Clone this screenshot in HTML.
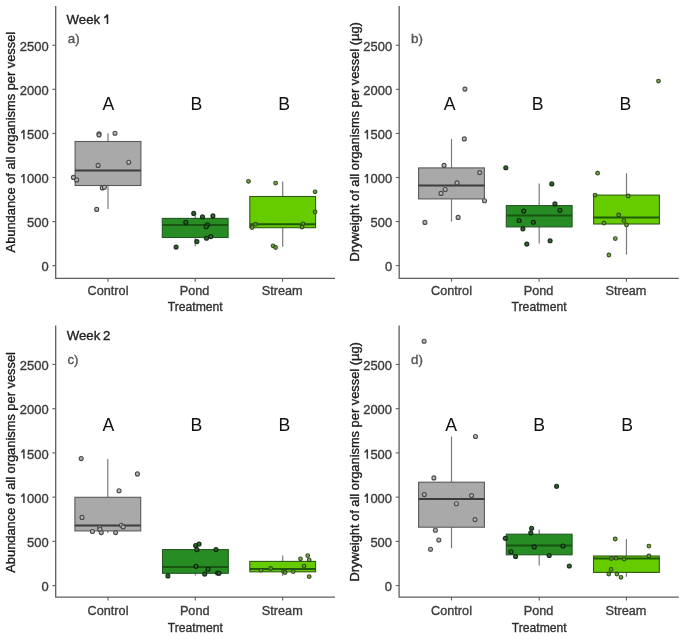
<!DOCTYPE html>
<html><head><meta charset="utf-8"><style>
html,body{margin:0;padding:0;background:#fff;width:685px;height:639px;overflow:hidden}
svg{display:block;font-family:"Liberation Sans", sans-serif;filter:blur(0.45px)}
text{stroke-width:0.35px;paint-order:stroke}
.tk{stroke:#3a3a3a}
.tt{stroke:#1a1a1a}
</style></head><body>
<svg width="685" height="639" viewBox="0 0 685 639">
<rect width="685" height="639" fill="#ffffff"/>
<line x1="108.0" y1="133.2" x2="108.0" y2="141.5" stroke="#7a7a7a" stroke-width="1.2"/>
<line x1="108.0" y1="185.5" x2="108.0" y2="209.0" stroke="#7a7a7a" stroke-width="1.2"/>
<rect x="75.10" y="141.5" width="65.8" height="44.00" fill="#a9a9a9" stroke="#5a5a5a" stroke-width="1.1"/>
<line x1="75.10" y1="170.45" x2="140.90" y2="170.45" stroke="#3c3c3c" stroke-width="2"/>
<line x1="195.2" y1="215.5" x2="195.2" y2="218.4" stroke="#7a7a7a" stroke-width="1.2"/>
<line x1="195.2" y1="237.5" x2="195.2" y2="246.2" stroke="#7a7a7a" stroke-width="1.2"/>
<rect x="162.30" y="218.4" width="65.8" height="19.10" fill="#278c24" stroke="#245624" stroke-width="1.1"/>
<line x1="162.30" y1="225.1" x2="228.10" y2="225.1" stroke="#185510" stroke-width="2"/>
<line x1="282.7" y1="181.5" x2="282.7" y2="196.5" stroke="#7a7a7a" stroke-width="1.2"/>
<line x1="282.7" y1="227.7" x2="282.7" y2="246.8" stroke="#7a7a7a" stroke-width="1.2"/>
<rect x="249.80" y="196.5" width="65.8" height="31.20" fill="#66cc00" stroke="#2f5a14" stroke-width="1.1"/>
<line x1="249.80" y1="224.2" x2="315.60" y2="224.2" stroke="#1f5a0a" stroke-width="2"/>
<circle cx="99.0" cy="133.9" r="2.0" fill="#b8b8b8" stroke="#4a4a4a" stroke-width="1.1"/>
<circle cx="99.05" cy="134.9" r="2.0" fill="#b8b8b8" stroke="#4a4a4a" stroke-width="1.1"/>
<circle cx="115" cy="133.2" r="2.0" fill="#b8b8b8" stroke="#4a4a4a" stroke-width="1.1"/>
<circle cx="98.1" cy="165.4" r="2.0" fill="#b8b8b8" stroke="#4a4a4a" stroke-width="1.1"/>
<circle cx="128.75" cy="162.3" r="2.0" fill="#b8b8b8" stroke="#4a4a4a" stroke-width="1.1"/>
<circle cx="73.4" cy="177.4" r="2.0" fill="#b8b8b8" stroke="#4a4a4a" stroke-width="1.1"/>
<circle cx="76.7" cy="179.9" r="2.0" fill="#b8b8b8" stroke="#4a4a4a" stroke-width="1.1"/>
<circle cx="102.3" cy="187.9" r="2.0" fill="#b8b8b8" stroke="#4a4a4a" stroke-width="1.1"/>
<circle cx="104.4" cy="187.2" r="2.0" fill="#b8b8b8" stroke="#4a4a4a" stroke-width="1.1"/>
<circle cx="96.7" cy="209.4" r="2.0" fill="#b8b8b8" stroke="#4a4a4a" stroke-width="1.1"/>
<circle cx="193.7" cy="213.4" r="2.0" fill="#2f6a2c" stroke="rgba(5,25,5,0.85)" stroke-width="1.15"/>
<circle cx="202.5" cy="216.7" r="2.0" fill="#2f6a2c" stroke="rgba(5,25,5,0.85)" stroke-width="1.15"/>
<circle cx="212.9" cy="215.9" r="2.0" fill="#2f6a2c" stroke="rgba(5,25,5,0.85)" stroke-width="1.15"/>
<circle cx="185.8" cy="222.3" r="2.0" fill="#2f6a2c" stroke="rgba(5,25,5,0.85)" stroke-width="1.15"/>
<circle cx="207.4" cy="224.8" r="2.0" fill="#2f6a2c" stroke="rgba(5,25,5,0.85)" stroke-width="1.15"/>
<circle cx="206.2" cy="226.7" r="2.0" fill="#2f6a2c" stroke="rgba(5,25,5,0.85)" stroke-width="1.15"/>
<circle cx="206.5" cy="238.2" r="2.0" fill="#2f6a2c" stroke="rgba(5,25,5,0.85)" stroke-width="1.15"/>
<circle cx="210.8" cy="236.6" r="2.0" fill="#2f6a2c" stroke="rgba(5,25,5,0.85)" stroke-width="1.15"/>
<circle cx="196.9" cy="241.6" r="2.0" fill="#2f6a2c" stroke="rgba(5,25,5,0.85)" stroke-width="1.15"/>
<circle cx="176.1" cy="247.1" r="2.0" fill="#2f6a2c" stroke="rgba(5,25,5,0.85)" stroke-width="1.15"/>
<circle cx="248.5" cy="181.3" r="1.85" fill="rgba(100,160,45,0.9)" stroke="rgba(45,70,25,0.95)" stroke-width="1.1"/>
<circle cx="275.6" cy="183.1" r="1.85" fill="rgba(100,160,45,0.9)" stroke="rgba(45,70,25,0.95)" stroke-width="1.1"/>
<circle cx="315.1" cy="191.8" r="1.85" fill="rgba(100,160,45,0.9)" stroke="rgba(45,70,25,0.95)" stroke-width="1.1"/>
<circle cx="315.1" cy="211.8" r="1.85" fill="rgba(100,160,45,0.9)" stroke="rgba(45,70,25,0.95)" stroke-width="1.1"/>
<circle cx="255.5" cy="224.2" r="1.85" fill="rgba(100,160,45,0.9)" stroke="rgba(45,70,25,0.95)" stroke-width="1.1"/>
<circle cx="252" cy="227.5" r="1.85" fill="rgba(100,160,45,0.9)" stroke="rgba(45,70,25,0.95)" stroke-width="1.1"/>
<circle cx="303" cy="223.8" r="1.85" fill="rgba(100,160,45,0.9)" stroke="rgba(45,70,25,0.95)" stroke-width="1.1"/>
<circle cx="302" cy="227" r="1.85" fill="rgba(100,160,45,0.9)" stroke="rgba(45,70,25,0.95)" stroke-width="1.1"/>
<circle cx="273.1" cy="245.8" r="1.85" fill="rgba(100,160,45,0.9)" stroke="rgba(45,70,25,0.95)" stroke-width="1.1"/>
<circle cx="275.6" cy="247.5" r="1.85" fill="rgba(100,160,45,0.9)" stroke="rgba(45,70,25,0.95)" stroke-width="1.1"/>
<path d="M55.7 6 V278.4 H335.0" fill="none" stroke="#5e5e5e" stroke-width="1.3"/>
<line x1="52.40" y1="265.65" x2="55.7" y2="265.65" stroke="#5e5e5e" stroke-width="1.1"/>
<text x="48.60" y="271.40" class="tk" font-size="12.95" fill="#3a3a3a" text-anchor="end">0</text>
<line x1="52.40" y1="221.57" x2="55.7" y2="221.57" stroke="#5e5e5e" stroke-width="1.1"/>
<text x="48.60" y="227.32" class="tk" font-size="12.95" fill="#3a3a3a" text-anchor="end">500</text>
<line x1="52.40" y1="177.49" x2="55.7" y2="177.49" stroke="#5e5e5e" stroke-width="1.1"/>
<text x="48.60" y="183.24" class="tk" font-size="12.95" fill="#3a3a3a" text-anchor="end">000</text>
<path d="M23.90 173.94 V183.24 M23.70 174.24 Q22.80 176.14 21.15 176.84" fill="none" stroke="#3a3a3a" stroke-width="1.5"/>
<line x1="52.40" y1="133.42" x2="55.7" y2="133.42" stroke="#5e5e5e" stroke-width="1.1"/>
<text x="48.60" y="139.17" class="tk" font-size="12.95" fill="#3a3a3a" text-anchor="end">500</text>
<path d="M23.90 129.87 V139.17 M23.70 130.17 Q22.80 132.07 21.15 132.77" fill="none" stroke="#3a3a3a" stroke-width="1.5"/>
<line x1="52.40" y1="89.34" x2="55.7" y2="89.34" stroke="#5e5e5e" stroke-width="1.1"/>
<text x="48.60" y="95.09" class="tk" font-size="12.95" fill="#3a3a3a" text-anchor="end">2000</text>
<line x1="52.40" y1="45.26" x2="55.7" y2="45.26" stroke="#5e5e5e" stroke-width="1.1"/>
<text x="48.60" y="51.01" class="tk" font-size="12.95" fill="#3a3a3a" text-anchor="end">2500</text>
<line x1="108.0" y1="278.4" x2="108.0" y2="281.7" stroke="#5e5e5e" stroke-width="1.1"/>
<text x="108.00" y="294.9" class="tk" font-size="12.7" fill="#3a3a3a" text-anchor="middle">Control</text>
<line x1="195.2" y1="278.4" x2="195.2" y2="281.7" stroke="#5e5e5e" stroke-width="1.1"/>
<text x="194.60" y="294.9" class="tk" font-size="12.7" fill="#3a3a3a" text-anchor="middle">Pond</text>
<line x1="282.6" y1="278.4" x2="282.6" y2="281.7" stroke="#5e5e5e" stroke-width="1.1"/>
<text x="282.20" y="294.9" class="tk" font-size="12.7" fill="#3a3a3a" text-anchor="middle">Stream</text>
<text x="195.2" y="310.8" class="tk" font-size="12.2" fill="#2e2e2e" text-anchor="middle">Treatment</text>
<text transform="translate(15.4,142.1) rotate(-90)" class="tt" font-size="12.85" fill="#1a1a1a" text-anchor="middle">Abundance of all organisms per vessel</text>
<text x="108.35" y="109.6" font-size="17.7" fill="#111" text-anchor="middle">A</text>
<text x="196.35" y="109.6" font-size="17.7" fill="#111" text-anchor="middle">B</text>
<text x="284.2" y="109.6" font-size="17.7" fill="#111" text-anchor="middle">B</text>
<text x="67.8" y="43.3" font-size="13.3" fill="#505050" stroke="#505050" stroke-width="0.12">a)</text>
<text class="tt" x="66.6" y="24.0" font-size="13.2" fill="#222">Week</text>
<path d="M107.45 14.6 V24 M107.3 14.9 Q106.2 16.9 104.2 17.7" fill="none" stroke="#222" stroke-width="1.55"/>
<line x1="451.5" y1="138.9" x2="451.5" y2="167.9" stroke="#7a7a7a" stroke-width="1.2"/>
<line x1="451.5" y1="198.9" x2="451.5" y2="221.6" stroke="#7a7a7a" stroke-width="1.2"/>
<rect x="418.60" y="167.9" width="65.8" height="31.00" fill="#a9a9a9" stroke="#5a5a5a" stroke-width="1.1"/>
<line x1="418.60" y1="185.6" x2="484.40" y2="185.6" stroke="#3c3c3c" stroke-width="2"/>
<line x1="539.2" y1="183.6" x2="539.2" y2="205.6" stroke="#7a7a7a" stroke-width="1.2"/>
<line x1="539.2" y1="226.9" x2="539.2" y2="243.4" stroke="#7a7a7a" stroke-width="1.2"/>
<rect x="506.30" y="205.6" width="65.8" height="21.30" fill="#278c24" stroke="#245624" stroke-width="1.1"/>
<line x1="506.30" y1="215.4" x2="572.10" y2="215.4" stroke="#185510" stroke-width="2"/>
<line x1="626.5" y1="173.2" x2="626.5" y2="195.1" stroke="#7a7a7a" stroke-width="1.2"/>
<line x1="626.5" y1="224.0" x2="626.5" y2="254.6" stroke="#7a7a7a" stroke-width="1.2"/>
<rect x="593.60" y="195.1" width="65.8" height="28.90" fill="#66cc00" stroke="#2f5a14" stroke-width="1.1"/>
<line x1="593.60" y1="217.6" x2="659.40" y2="217.6" stroke="#1f5a0a" stroke-width="2"/>
<circle cx="464.9" cy="89.1" r="2.0" fill="#b8b8b8" stroke="#4a4a4a" stroke-width="1.1"/>
<circle cx="464.3" cy="138.9" r="2.0" fill="#b8b8b8" stroke="#4a4a4a" stroke-width="1.1"/>
<circle cx="444.1" cy="165.4" r="2.0" fill="#b8b8b8" stroke="#4a4a4a" stroke-width="1.1"/>
<circle cx="479.7" cy="172.6" r="2.0" fill="#b8b8b8" stroke="#4a4a4a" stroke-width="1.1"/>
<circle cx="457" cy="182.9" r="2.0" fill="#b8b8b8" stroke="#4a4a4a" stroke-width="1.1"/>
<circle cx="445.2" cy="189.5" r="2.0" fill="#b8b8b8" stroke="#4a4a4a" stroke-width="1.1"/>
<circle cx="441" cy="193.4" r="2.0" fill="#b8b8b8" stroke="#4a4a4a" stroke-width="1.1"/>
<circle cx="484.5" cy="200.8" r="2.0" fill="#b8b8b8" stroke="#4a4a4a" stroke-width="1.1"/>
<circle cx="458.1" cy="217.4" r="2.0" fill="#b8b8b8" stroke="#4a4a4a" stroke-width="1.1"/>
<circle cx="424.9" cy="222.4" r="2.0" fill="#b8b8b8" stroke="#4a4a4a" stroke-width="1.1"/>
<circle cx="505.8" cy="167.7" r="2.0" fill="#2f6a2c" stroke="rgba(5,25,5,0.85)" stroke-width="1.15"/>
<circle cx="551.8" cy="183.9" r="2.0" fill="#2f6a2c" stroke="rgba(5,25,5,0.85)" stroke-width="1.15"/>
<circle cx="554.9" cy="203.9" r="2.0" fill="#2f6a2c" stroke="rgba(5,25,5,0.85)" stroke-width="1.15"/>
<circle cx="559.9" cy="210.2" r="2.0" fill="#2f6a2c" stroke="rgba(5,25,5,0.85)" stroke-width="1.15"/>
<circle cx="523.7" cy="211.1" r="2.0" fill="#2f6a2c" stroke="rgba(5,25,5,0.85)" stroke-width="1.15"/>
<circle cx="519.1" cy="220.5" r="2.0" fill="#2f6a2c" stroke="rgba(5,25,5,0.85)" stroke-width="1.15"/>
<circle cx="533.4" cy="222.3" r="2.0" fill="#2f6a2c" stroke="rgba(5,25,5,0.85)" stroke-width="1.15"/>
<circle cx="522.9" cy="228.8" r="2.0" fill="#2f6a2c" stroke="rgba(5,25,5,0.85)" stroke-width="1.15"/>
<circle cx="550.1" cy="240.7" r="2.0" fill="#2f6a2c" stroke="rgba(5,25,5,0.85)" stroke-width="1.15"/>
<circle cx="526.8" cy="244.1" r="2.0" fill="#2f6a2c" stroke="rgba(5,25,5,0.85)" stroke-width="1.15"/>
<circle cx="658.5" cy="81.1" r="1.85" fill="rgba(100,160,45,0.9)" stroke="rgba(45,70,25,0.95)" stroke-width="1.1"/>
<circle cx="597.6" cy="173.2" r="1.85" fill="rgba(100,160,45,0.9)" stroke="rgba(45,70,25,0.95)" stroke-width="1.1"/>
<circle cx="595.1" cy="195.1" r="1.85" fill="rgba(100,160,45,0.9)" stroke="rgba(45,70,25,0.95)" stroke-width="1.1"/>
<circle cx="628.2" cy="196" r="1.85" fill="rgba(100,160,45,0.9)" stroke="rgba(45,70,25,0.95)" stroke-width="1.1"/>
<circle cx="618.7" cy="215" r="1.85" fill="rgba(100,160,45,0.9)" stroke="rgba(45,70,25,0.95)" stroke-width="1.1"/>
<circle cx="623.9" cy="220.6" r="1.85" fill="rgba(100,160,45,0.9)" stroke="rgba(45,70,25,0.95)" stroke-width="1.1"/>
<circle cx="604.1" cy="223.1" r="1.85" fill="rgba(100,160,45,0.9)" stroke="rgba(45,70,25,0.95)" stroke-width="1.1"/>
<circle cx="626.5" cy="224.9" r="1.85" fill="rgba(100,160,45,0.9)" stroke="rgba(45,70,25,0.95)" stroke-width="1.1"/>
<circle cx="615.3" cy="238.6" r="1.85" fill="rgba(100,160,45,0.9)" stroke="rgba(45,70,25,0.95)" stroke-width="1.1"/>
<circle cx="608.9" cy="255" r="1.85" fill="rgba(100,160,45,0.9)" stroke="rgba(45,70,25,0.95)" stroke-width="1.1"/>
<path d="M399.2 6 V278.4 H678.8" fill="none" stroke="#5e5e5e" stroke-width="1.3"/>
<line x1="395.90" y1="265.65" x2="399.2" y2="265.65" stroke="#5e5e5e" stroke-width="1.1"/>
<text x="392.10" y="271.40" class="tk" font-size="12.95" fill="#3a3a3a" text-anchor="end">0</text>
<line x1="395.90" y1="221.57" x2="399.2" y2="221.57" stroke="#5e5e5e" stroke-width="1.1"/>
<text x="392.10" y="227.32" class="tk" font-size="12.95" fill="#3a3a3a" text-anchor="end">500</text>
<line x1="395.90" y1="177.49" x2="399.2" y2="177.49" stroke="#5e5e5e" stroke-width="1.1"/>
<text x="392.10" y="183.24" class="tk" font-size="12.95" fill="#3a3a3a" text-anchor="end">000</text>
<path d="M367.40 173.94 V183.24 M367.20 174.24 Q366.30 176.14 364.65 176.84" fill="none" stroke="#3a3a3a" stroke-width="1.5"/>
<line x1="395.90" y1="133.42" x2="399.2" y2="133.42" stroke="#5e5e5e" stroke-width="1.1"/>
<text x="392.10" y="139.17" class="tk" font-size="12.95" fill="#3a3a3a" text-anchor="end">500</text>
<path d="M367.40 129.87 V139.17 M367.20 130.17 Q366.30 132.07 364.65 132.77" fill="none" stroke="#3a3a3a" stroke-width="1.5"/>
<line x1="395.90" y1="89.34" x2="399.2" y2="89.34" stroke="#5e5e5e" stroke-width="1.1"/>
<text x="392.10" y="95.09" class="tk" font-size="12.95" fill="#3a3a3a" text-anchor="end">2000</text>
<line x1="395.90" y1="45.26" x2="399.2" y2="45.26" stroke="#5e5e5e" stroke-width="1.1"/>
<text x="392.10" y="51.01" class="tk" font-size="12.95" fill="#3a3a3a" text-anchor="end">2500</text>
<line x1="451.5" y1="278.4" x2="451.5" y2="281.7" stroke="#5e5e5e" stroke-width="1.1"/>
<text x="451.50" y="294.9" class="tk" font-size="12.7" fill="#3a3a3a" text-anchor="middle">Control</text>
<line x1="539.1" y1="278.4" x2="539.1" y2="281.7" stroke="#5e5e5e" stroke-width="1.1"/>
<text x="538.50" y="294.9" class="tk" font-size="12.7" fill="#3a3a3a" text-anchor="middle">Pond</text>
<line x1="626.4" y1="278.4" x2="626.4" y2="281.7" stroke="#5e5e5e" stroke-width="1.1"/>
<text x="626.00" y="294.9" class="tk" font-size="12.7" fill="#3a3a3a" text-anchor="middle">Stream</text>
<text x="539.1" y="310.8" class="tk" font-size="12.2" fill="#2e2e2e" text-anchor="middle">Treatment</text>
<text transform="translate(358.9,141.9) rotate(-90)" class="tt" font-size="12.85" fill="#1a1a1a" text-anchor="middle">Dryweight of all organisms per vessel (µg)</text>
<text x="449.6" y="109.6" font-size="17.7" fill="#111" text-anchor="middle">A</text>
<text x="537.65" y="109.6" font-size="17.7" fill="#111" text-anchor="middle">B</text>
<text x="625.45" y="109.6" font-size="17.7" fill="#111" text-anchor="middle">B</text>
<text x="411.1" y="43.4" font-size="13.3" fill="#505050" stroke="#505050" stroke-width="0.12">b)</text>
<line x1="107.8" y1="458.9" x2="107.8" y2="497.3" stroke="#7a7a7a" stroke-width="1.2"/>
<line x1="107.8" y1="530.9" x2="107.8" y2="533.0" stroke="#7a7a7a" stroke-width="1.2"/>
<rect x="74.90" y="497.3" width="65.8" height="33.60" fill="#a9a9a9" stroke="#5a5a5a" stroke-width="1.1"/>
<line x1="74.90" y1="525.5" x2="140.70" y2="525.5" stroke="#3c3c3c" stroke-width="2"/>
<line x1="195.4" y1="544.0" x2="195.4" y2="549.6" stroke="#7a7a7a" stroke-width="1.2"/>
<line x1="195.4" y1="573.3" x2="195.4" y2="575.5" stroke="#7a7a7a" stroke-width="1.2"/>
<rect x="162.50" y="549.6" width="65.8" height="23.70" fill="#278c24" stroke="#245624" stroke-width="1.1"/>
<line x1="162.50" y1="567.1" x2="228.30" y2="567.1" stroke="#185510" stroke-width="2"/>
<line x1="282.7" y1="555.6" x2="282.7" y2="561.4" stroke="#7a7a7a" stroke-width="1.2"/>
<line x1="282.7" y1="571.8" x2="282.7" y2="575.9" stroke="#7a7a7a" stroke-width="1.2"/>
<rect x="249.80" y="561.4" width="65.8" height="10.40" fill="#66cc00" stroke="#2f5a14" stroke-width="1.1"/>
<line x1="249.80" y1="569.0" x2="315.60" y2="569.0" stroke="#1f5a0a" stroke-width="2"/>
<circle cx="81.2" cy="458.6" r="2.0" fill="#b8b8b8" stroke="#4a4a4a" stroke-width="1.1"/>
<circle cx="137.4" cy="473.9" r="2.0" fill="#b8b8b8" stroke="#4a4a4a" stroke-width="1.1"/>
<circle cx="119" cy="490.8" r="2.0" fill="#b8b8b8" stroke="#4a4a4a" stroke-width="1.1"/>
<circle cx="82" cy="517.4" r="2.0" fill="#b8b8b8" stroke="#4a4a4a" stroke-width="1.1"/>
<circle cx="121.4" cy="525.2" r="2.0" fill="#b8b8b8" stroke="#4a4a4a" stroke-width="1.1"/>
<circle cx="123.2" cy="526.9" r="2.0" fill="#b8b8b8" stroke="#4a4a4a" stroke-width="1.1"/>
<circle cx="99.6" cy="527.8" r="2.0" fill="#b8b8b8" stroke="#4a4a4a" stroke-width="1.1"/>
<circle cx="99.9" cy="529.5" r="2.0" fill="#b8b8b8" stroke="#4a4a4a" stroke-width="1.1"/>
<circle cx="92.4" cy="531.5" r="2.0" fill="#b8b8b8" stroke="#4a4a4a" stroke-width="1.1"/>
<circle cx="101.3" cy="532.6" r="2.0" fill="#b8b8b8" stroke="#4a4a4a" stroke-width="1.1"/>
<circle cx="115.6" cy="532.6" r="2.0" fill="#b8b8b8" stroke="#4a4a4a" stroke-width="1.1"/>
<circle cx="195.6" cy="545.5" r="2.0" fill="#2f6a2c" stroke="rgba(5,25,5,0.85)" stroke-width="1.15"/>
<circle cx="199.1" cy="544.1" r="2.0" fill="#2f6a2c" stroke="rgba(5,25,5,0.85)" stroke-width="1.15"/>
<circle cx="196.9" cy="549.6" r="2.0" fill="#2f6a2c" stroke="rgba(5,25,5,0.85)" stroke-width="1.15"/>
<circle cx="216" cy="549.6" r="2.0" fill="#2f6a2c" stroke="rgba(5,25,5,0.85)" stroke-width="1.15"/>
<circle cx="196" cy="566.3" r="2.0" fill="#2f6a2c" stroke="rgba(5,25,5,0.85)" stroke-width="1.15"/>
<circle cx="208" cy="569.2" r="2.0" fill="#2f6a2c" stroke="rgba(5,25,5,0.85)" stroke-width="1.15"/>
<circle cx="204.7" cy="574.1" r="2.0" fill="#2f6a2c" stroke="rgba(5,25,5,0.85)" stroke-width="1.15"/>
<circle cx="217.6" cy="573" r="2.0" fill="#2f6a2c" stroke="rgba(5,25,5,0.85)" stroke-width="1.15"/>
<circle cx="219" cy="573.3" r="2.0" fill="#2f6a2c" stroke="rgba(5,25,5,0.85)" stroke-width="1.15"/>
<circle cx="167.9" cy="575.9" r="2.0" fill="#2f6a2c" stroke="rgba(5,25,5,0.85)" stroke-width="1.15"/>
<circle cx="307.7" cy="555.6" r="1.85" fill="rgba(100,160,45,0.9)" stroke="rgba(45,70,25,0.95)" stroke-width="1.1"/>
<circle cx="300.5" cy="558.8" r="1.85" fill="rgba(100,160,45,0.9)" stroke="rgba(45,70,25,0.95)" stroke-width="1.1"/>
<circle cx="309.2" cy="559.9" r="1.85" fill="rgba(100,160,45,0.9)" stroke="rgba(45,70,25,0.95)" stroke-width="1.1"/>
<circle cx="304" cy="566.1" r="1.85" fill="rgba(100,160,45,0.9)" stroke="rgba(45,70,25,0.95)" stroke-width="1.1"/>
<circle cx="270.7" cy="568.5" r="1.85" fill="rgba(100,160,45,0.9)" stroke="rgba(45,70,25,0.95)" stroke-width="1.1"/>
<circle cx="261.1" cy="570.2" r="1.85" fill="rgba(100,160,45,0.9)" stroke="rgba(45,70,25,0.95)" stroke-width="1.1"/>
<circle cx="283.5" cy="571.6" r="1.85" fill="rgba(100,160,45,0.9)" stroke="rgba(45,70,25,0.95)" stroke-width="1.1"/>
<circle cx="285.1" cy="572.5" r="1.85" fill="rgba(100,160,45,0.9)" stroke="rgba(45,70,25,0.95)" stroke-width="1.1"/>
<circle cx="293.2" cy="571.6" r="1.85" fill="rgba(100,160,45,0.9)" stroke="rgba(45,70,25,0.95)" stroke-width="1.1"/>
<circle cx="309.2" cy="576.6" r="1.85" fill="rgba(100,160,45,0.9)" stroke="rgba(45,70,25,0.95)" stroke-width="1.1"/>
<path d="M55.7 325.6 V597.1 H335.0" fill="none" stroke="#5e5e5e" stroke-width="1.3"/>
<line x1="52.40" y1="585.60" x2="55.7" y2="585.60" stroke="#5e5e5e" stroke-width="1.1"/>
<text x="48.60" y="591.35" class="tk" font-size="12.95" fill="#3a3a3a" text-anchor="end">0</text>
<line x1="52.40" y1="541.37" x2="55.7" y2="541.37" stroke="#5e5e5e" stroke-width="1.1"/>
<text x="48.60" y="547.12" class="tk" font-size="12.95" fill="#3a3a3a" text-anchor="end">500</text>
<line x1="52.40" y1="497.13" x2="55.7" y2="497.13" stroke="#5e5e5e" stroke-width="1.1"/>
<text x="48.60" y="502.88" class="tk" font-size="12.95" fill="#3a3a3a" text-anchor="end">000</text>
<path d="M23.90 493.58 V502.88 M23.70 493.88 Q22.80 495.78 21.15 496.48" fill="none" stroke="#3a3a3a" stroke-width="1.5"/>
<line x1="52.40" y1="452.90" x2="55.7" y2="452.90" stroke="#5e5e5e" stroke-width="1.1"/>
<text x="48.60" y="458.65" class="tk" font-size="12.95" fill="#3a3a3a" text-anchor="end">500</text>
<path d="M23.90 449.35 V458.65 M23.70 449.65 Q22.80 451.55 21.15 452.25" fill="none" stroke="#3a3a3a" stroke-width="1.5"/>
<line x1="52.40" y1="408.66" x2="55.7" y2="408.66" stroke="#5e5e5e" stroke-width="1.1"/>
<text x="48.60" y="414.41" class="tk" font-size="12.95" fill="#3a3a3a" text-anchor="end">2000</text>
<line x1="52.40" y1="364.43" x2="55.7" y2="364.43" stroke="#5e5e5e" stroke-width="1.1"/>
<text x="48.60" y="370.18" class="tk" font-size="12.95" fill="#3a3a3a" text-anchor="end">2500</text>
<line x1="108.0" y1="597.1" x2="108.0" y2="600.4" stroke="#5e5e5e" stroke-width="1.1"/>
<text x="108.00" y="614.6" class="tk" font-size="12.7" fill="#3a3a3a" text-anchor="middle">Control</text>
<line x1="195.3" y1="597.1" x2="195.3" y2="600.4" stroke="#5e5e5e" stroke-width="1.1"/>
<text x="194.70" y="614.6" class="tk" font-size="12.7" fill="#3a3a3a" text-anchor="middle">Pond</text>
<line x1="282.7" y1="597.1" x2="282.7" y2="600.4" stroke="#5e5e5e" stroke-width="1.1"/>
<text x="282.30" y="614.6" class="tk" font-size="12.7" fill="#3a3a3a" text-anchor="middle">Stream</text>
<text x="195.3" y="631.8" class="tk" font-size="12.2" fill="#2e2e2e" text-anchor="middle">Treatment</text>
<text transform="translate(15.4,462.4) rotate(-90)" class="tt" font-size="12.85" fill="#1a1a1a" text-anchor="middle">Abundance of all organisms per vessel</text>
<text x="108.4" y="431.0" font-size="17.7" fill="#111" text-anchor="middle">A</text>
<text x="196.5" y="431.0" font-size="17.7" fill="#111" text-anchor="middle">B</text>
<text x="284.4" y="431.0" font-size="17.7" fill="#111" text-anchor="middle">B</text>
<text x="67.4" y="363.8" font-size="13.3" fill="#505050" stroke="#505050" stroke-width="0.12">c)</text>
<text class="tt" x="66.8" y="339.5" font-size="13.2" fill="#222" word-spacing="-1">Week 2</text>
<line x1="451.5" y1="436.5" x2="451.5" y2="482.2" stroke="#7a7a7a" stroke-width="1.2"/>
<line x1="451.5" y1="527.2" x2="451.5" y2="548.3" stroke="#7a7a7a" stroke-width="1.2"/>
<rect x="418.60" y="482.2" width="65.8" height="45.00" fill="#a9a9a9" stroke="#5a5a5a" stroke-width="1.1"/>
<line x1="418.60" y1="499.1" x2="484.40" y2="499.1" stroke="#3c3c3c" stroke-width="2"/>
<line x1="539.2" y1="529.4" x2="539.2" y2="534.2" stroke="#7a7a7a" stroke-width="1.2"/>
<line x1="539.2" y1="554.8" x2="539.2" y2="565.5" stroke="#7a7a7a" stroke-width="1.2"/>
<rect x="506.30" y="534.2" width="65.8" height="20.60" fill="#278c24" stroke="#245624" stroke-width="1.1"/>
<line x1="506.30" y1="545.4" x2="572.10" y2="545.4" stroke="#185510" stroke-width="2"/>
<line x1="626.4" y1="538.9" x2="626.4" y2="556.0" stroke="#7a7a7a" stroke-width="1.2"/>
<line x1="626.4" y1="572.4" x2="626.4" y2="576.8" stroke="#7a7a7a" stroke-width="1.2"/>
<rect x="593.50" y="556.0" width="65.8" height="16.40" fill="#66cc00" stroke="#2f5a14" stroke-width="1.1"/>
<line x1="593.50" y1="558.5" x2="659.30" y2="558.5" stroke="#1f5a0a" stroke-width="2"/>
<circle cx="424.1" cy="341.3" r="2.0" fill="#b8b8b8" stroke="#4a4a4a" stroke-width="1.1"/>
<circle cx="475.5" cy="436.5" r="2.0" fill="#b8b8b8" stroke="#4a4a4a" stroke-width="1.1"/>
<circle cx="433.9" cy="477.9" r="2.0" fill="#b8b8b8" stroke="#4a4a4a" stroke-width="1.1"/>
<circle cx="424.3" cy="494.6" r="2.0" fill="#b8b8b8" stroke="#4a4a4a" stroke-width="1.1"/>
<circle cx="471.6" cy="495.6" r="2.0" fill="#b8b8b8" stroke="#4a4a4a" stroke-width="1.1"/>
<circle cx="456.4" cy="503.8" r="2.0" fill="#b8b8b8" stroke="#4a4a4a" stroke-width="1.1"/>
<circle cx="475" cy="519.6" r="2.0" fill="#b8b8b8" stroke="#4a4a4a" stroke-width="1.1"/>
<circle cx="435.4" cy="530.2" r="2.0" fill="#b8b8b8" stroke="#4a4a4a" stroke-width="1.1"/>
<circle cx="438.8" cy="540" r="2.0" fill="#b8b8b8" stroke="#4a4a4a" stroke-width="1.1"/>
<circle cx="430.5" cy="549.3" r="2.0" fill="#b8b8b8" stroke="#4a4a4a" stroke-width="1.1"/>
<circle cx="556.6" cy="486.3" r="2.0" fill="#2f6a2c" stroke="rgba(5,25,5,0.85)" stroke-width="1.15"/>
<circle cx="531.6" cy="528.2" r="2.0" fill="#2f6a2c" stroke="rgba(5,25,5,0.85)" stroke-width="1.15"/>
<circle cx="530.8" cy="532.8" r="2.0" fill="#2f6a2c" stroke="rgba(5,25,5,0.85)" stroke-width="1.15"/>
<circle cx="505.3" cy="538.3" r="2.0" fill="#2f6a2c" stroke="rgba(5,25,5,0.85)" stroke-width="1.15"/>
<circle cx="534.2" cy="546.9" r="2.0" fill="#2f6a2c" stroke="rgba(5,25,5,0.85)" stroke-width="1.15"/>
<circle cx="563" cy="546" r="2.0" fill="#2f6a2c" stroke="rgba(5,25,5,0.85)" stroke-width="1.15"/>
<circle cx="511" cy="551.7" r="2.0" fill="#2f6a2c" stroke="rgba(5,25,5,0.85)" stroke-width="1.15"/>
<circle cx="515.6" cy="556.5" r="2.0" fill="#2f6a2c" stroke="rgba(5,25,5,0.85)" stroke-width="1.15"/>
<circle cx="549.2" cy="555.5" r="2.0" fill="#2f6a2c" stroke="rgba(5,25,5,0.85)" stroke-width="1.15"/>
<circle cx="569.3" cy="566" r="2.0" fill="#2f6a2c" stroke="rgba(5,25,5,0.85)" stroke-width="1.15"/>
<circle cx="615.2" cy="539" r="1.85" fill="rgba(100,160,45,0.9)" stroke="rgba(45,70,25,0.95)" stroke-width="1.1"/>
<circle cx="648.9" cy="546.1" r="1.85" fill="rgba(100,160,45,0.9)" stroke="rgba(45,70,25,0.95)" stroke-width="1.1"/>
<circle cx="648.9" cy="556" r="1.85" fill="rgba(100,160,45,0.9)" stroke="rgba(45,70,25,0.95)" stroke-width="1.1"/>
<circle cx="611.3" cy="558.5" r="1.85" fill="rgba(100,160,45,0.9)" stroke="rgba(45,70,25,0.95)" stroke-width="1.1"/>
<circle cx="616" cy="558.2" r="1.85" fill="rgba(100,160,45,0.9)" stroke="rgba(45,70,25,0.95)" stroke-width="1.1"/>
<circle cx="624.1" cy="559.1" r="1.85" fill="rgba(100,160,45,0.9)" stroke="rgba(45,70,25,0.95)" stroke-width="1.1"/>
<circle cx="611.1" cy="569.4" r="1.85" fill="rgba(100,160,45,0.9)" stroke="rgba(45,70,25,0.95)" stroke-width="1.1"/>
<circle cx="608.8" cy="574" r="1.85" fill="rgba(100,160,45,0.9)" stroke="rgba(45,70,25,0.95)" stroke-width="1.1"/>
<circle cx="616.9" cy="574" r="1.85" fill="rgba(100,160,45,0.9)" stroke="rgba(45,70,25,0.95)" stroke-width="1.1"/>
<circle cx="621" cy="577.3" r="1.85" fill="rgba(100,160,45,0.9)" stroke="rgba(45,70,25,0.95)" stroke-width="1.1"/>
<path d="M399.1 325.6 V597.1 H678.8" fill="none" stroke="#5e5e5e" stroke-width="1.3"/>
<line x1="395.80" y1="585.60" x2="399.1" y2="585.60" stroke="#5e5e5e" stroke-width="1.1"/>
<text x="392.00" y="591.35" class="tk" font-size="12.95" fill="#3a3a3a" text-anchor="end">0</text>
<line x1="395.80" y1="541.37" x2="399.1" y2="541.37" stroke="#5e5e5e" stroke-width="1.1"/>
<text x="392.00" y="547.12" class="tk" font-size="12.95" fill="#3a3a3a" text-anchor="end">500</text>
<line x1="395.80" y1="497.13" x2="399.1" y2="497.13" stroke="#5e5e5e" stroke-width="1.1"/>
<text x="392.00" y="502.88" class="tk" font-size="12.95" fill="#3a3a3a" text-anchor="end">000</text>
<path d="M367.30 493.58 V502.88 M367.10 493.88 Q366.20 495.78 364.55 496.48" fill="none" stroke="#3a3a3a" stroke-width="1.5"/>
<line x1="395.80" y1="452.90" x2="399.1" y2="452.90" stroke="#5e5e5e" stroke-width="1.1"/>
<text x="392.00" y="458.65" class="tk" font-size="12.95" fill="#3a3a3a" text-anchor="end">500</text>
<path d="M367.30 449.35 V458.65 M367.10 449.65 Q366.20 451.55 364.55 452.25" fill="none" stroke="#3a3a3a" stroke-width="1.5"/>
<line x1="395.80" y1="408.66" x2="399.1" y2="408.66" stroke="#5e5e5e" stroke-width="1.1"/>
<text x="392.00" y="414.41" class="tk" font-size="12.95" fill="#3a3a3a" text-anchor="end">2000</text>
<line x1="395.80" y1="364.43" x2="399.1" y2="364.43" stroke="#5e5e5e" stroke-width="1.1"/>
<text x="392.00" y="370.18" class="tk" font-size="12.95" fill="#3a3a3a" text-anchor="end">2500</text>
<line x1="451.5" y1="597.1" x2="451.5" y2="600.4" stroke="#5e5e5e" stroke-width="1.1"/>
<text x="451.50" y="615.0" class="tk" font-size="12.7" fill="#3a3a3a" text-anchor="middle">Control</text>
<line x1="539.2" y1="597.1" x2="539.2" y2="600.4" stroke="#5e5e5e" stroke-width="1.1"/>
<text x="538.60" y="615.0" class="tk" font-size="12.7" fill="#3a3a3a" text-anchor="middle">Pond</text>
<line x1="626.4" y1="597.1" x2="626.4" y2="600.4" stroke="#5e5e5e" stroke-width="1.1"/>
<text x="626.00" y="615.0" class="tk" font-size="12.7" fill="#3a3a3a" text-anchor="middle">Stream</text>
<text x="539.2" y="631.6" class="tk" font-size="12.2" fill="#2e2e2e" text-anchor="middle">Treatment</text>
<text transform="translate(358.9,461.9) rotate(-90)" class="tt" font-size="12.85" fill="#1a1a1a" text-anchor="middle">Dryweight of all organisms per vessel (µg)</text>
<text x="451.15" y="431.0" font-size="17.7" fill="#111" text-anchor="middle">A</text>
<text x="539.2" y="431.0" font-size="17.7" fill="#111" text-anchor="middle">B</text>
<text x="627.05" y="431.0" font-size="17.7" fill="#111" text-anchor="middle">B</text>
<text x="411.1" y="363.9" font-size="13.3" fill="#505050" stroke="#505050" stroke-width="0.12">d)</text>
</svg>
</body></html>
